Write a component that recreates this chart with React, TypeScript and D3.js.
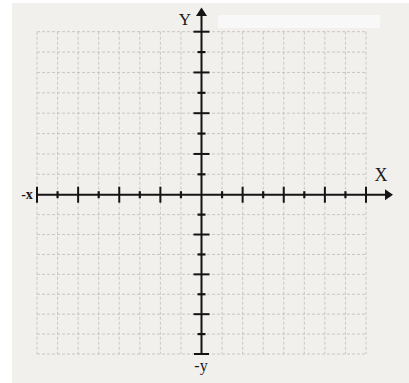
import React, { useRef, useEffect } from 'react';
import * as d3 from 'd3';

// grid positions (units) along each axis
const GRID_UNITS = [-8, -7, -6, -5, -4, -3, -2, -1, 1, 2, 3, 4, 5, 6, 7, 8];
const X_TICKS = [-8, -7, -6, -5, -4, -3, -2, -1, 1, 2, 3, 4, 5, 6, 7, 8];
const Y_TICKS = [8, 7, 6, 5, 4, 3, 2, 1, -1, -2, -3, -4, -5, -6, -7];
const MAJOR_TICKS = [-8, -6, -4, -2, 2, 4, 6, 8];
const AXIS_LABELS = { posX: "X", negX: "-x", posY: "Y", negY: "-y" };

const W = 409;
const H = 383;

function App() {
    const svgRef = useRef<SVGSVGElement>(null);

    useEffect(() => {
        const svg = d3.select(svgRef.current);
        svg.selectAll("*").remove();

        const xScale = d3.scaleLinear().domain([-8, 8]).range([37, 366]);
        const yScale = d3.scaleLinear().domain([8, 0, -8]).range([31.7, 194.7, 354]);

        // paper
        svg.append("rect").attr("width", W).attr("height", H).attr("fill", "#ffffff");
        svg.append("rect")
            .attr("x", 12).attr("y", 3)
            .attr("width", W - 12).attr("height", H - 3)
            .attr("fill", "#f2f0ed");
        svg.append("rect")
            .attr("x", 218).attr("y", 15)
            .attr("width", 162).attr("height", 13)
            .attr("fill", "#f8f8f8");

        // dashed grid
        const grid = svg.append("g")
            .attr("stroke", "#c4c2c0")
            .attr("stroke-width", 0.9)
            .attr("stroke-dasharray", "3,2");
        grid.selectAll(".vline")
            .data(GRID_UNITS)
            .join("line")
            .attr("class", "vline")
            .attr("x1", d => xScale(d)).attr("x2", d => xScale(d))
            .attr("y1", yScale(8)).attr("y2", yScale(-8));
        grid.selectAll(".hline")
            .data(GRID_UNITS)
            .join("line")
            .attr("class", "hline")
            .attr("y1", d => yScale(d)).attr("y2", d => yScale(d))
            .attr("x1", xScale(-8)).attr("x2", xScale(8));

        const axes = svg.append("g").attr("stroke", "#141414").attr("fill", "#141414");
        const x0 = xScale(0);
        const y0 = yScale(0);

        // x axis
        axes.append("line")
            .attr("x1", xScale(-8)).attr("x2", 387)
            .attr("y1", y0).attr("y2", y0)
            .attr("stroke-width", 2);
        axes.append("path")
            .attr("d", `M393,${y0} L385,${y0 - 5.5} L385,${y0 + 5.5} Z`)
            .attr("stroke", "none");
        axes.selectAll(".xtick")
            .data(X_TICKS)
            .join("line")
            .attr("class", "xtick")
            .attr("x1", d => xScale(d)).attr("x2", d => xScale(d))
            .attr("y1", d => y0 - (MAJOR_TICKS.includes(d) ? 8 : 3.5))
            .attr("y2", d => y0 + (MAJOR_TICKS.includes(d) ? 8 : 3.5))
            .attr("stroke-width", d => MAJOR_TICKS.includes(d) ? 2 : 2.2);

        // y axis
        axes.append("line")
            .attr("x1", x0).attr("x2", x0)
            .attr("y1", 14).attr("y2", yScale(-8))
            .attr("stroke-width", 2);
        axes.append("path")
            .attr("d", `M${x0},7.5 L${x0 - 5.5},16 L${x0 + 5.5},16 Z`)
            .attr("stroke", "none");
        axes.append("line")
            .attr("x1", x0 - 7.5).attr("x2", x0 + 7.5)
            .attr("y1", yScale(-8)).attr("y2", yScale(-8))
            .attr("stroke-width", 2);
        axes.selectAll(".ytick")
            .data(Y_TICKS)
            .join("line")
            .attr("class", "ytick")
            .attr("y1", d => yScale(d)).attr("y2", d => yScale(d))
            .attr("x1", d => x0 - (MAJOR_TICKS.includes(d) ? 8 : 4))
            .attr("x2", d => x0 + (MAJOR_TICKS.includes(d) ? 8 : 4))
            .attr("stroke-width", d => MAJOR_TICKS.includes(d) ? 2 : 2.2);

        // labels
        const label = (txt: string, x: number, y: number, size: number) =>
            svg.append("text")
                .attr("x", x).attr("y", y)
                .attr("text-anchor", "middle")
                .attr("font-family", "'Liberation Serif', 'DejaVu Serif', serif")
                .attr("font-size", size)
                .attr("fill", "#1a1a1a")
                .text(txt);
        label(AXIS_LABELS.posY, 185, 25, 17);
        label(AXIS_LABELS.posX, 381, 181, 18);
        label(AXIS_LABELS.negX, 27, 199, 14).attr("font-weight", "bold");
        label(AXIS_LABELS.negY, 201, 371, 16);
    }, []);

    return (
        <svg
            ref={svgRef}
            width={W}
            height={H}
            style={{ position: "absolute", left: 0, top: 0 }}
        />
    );
}

export default App;
